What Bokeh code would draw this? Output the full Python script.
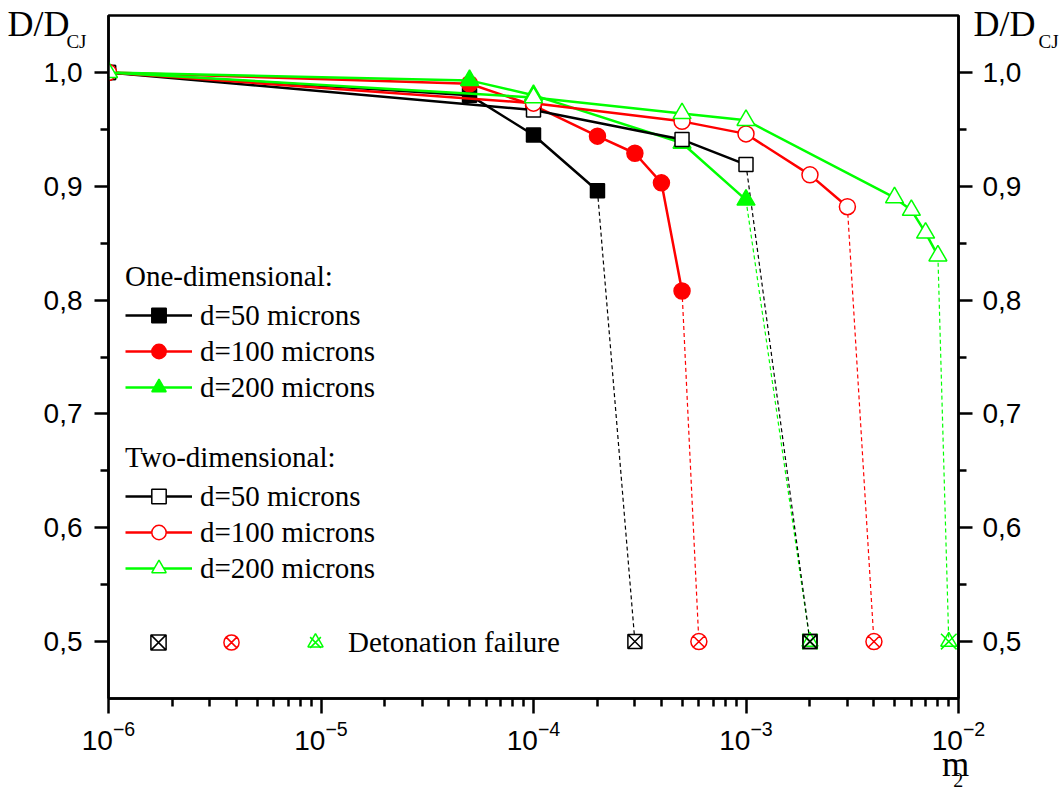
from bokeh.plotting import figure
from bokeh.models import (LinearAxis, FixedTicker, CustomJSTickFormatter,
                          Legend, LegendItem, Range1d)
from bokeh.embed import file_html
from bokeh.resources import INLINE

# ---------------- data ----------------
# One-dimensional
x_1d_50 = [1e-6, 5e-5, 1e-4, 2e-4]
y_1d_50 = [1.0, 0.980, 0.945, 0.896]
x_1d_100 = [1e-6, 5e-5, 1e-4, 2e-4, 3e-4, 4e-4, 5e-4]
y_1d_100 = [1.0, 0.990, 0.971, 0.944, 0.929, 0.903, 0.808]
x_1d_200 = [1e-6, 5e-5, 1e-4, 5e-4, 1e-3]
y_1d_200 = [1.0, 0.993, 0.980, 0.938, 0.888]
# Two-dimensional
x_2d_50 = [1e-6, 1e-4, 5e-4, 1e-3]
y_2d_50 = [1.0, 0.967, 0.941, 0.919]
x_2d_100 = [1e-6, 1e-4, 5e-4, 1e-3, 2e-3, 3e-3]
y_2d_100 = [1.0, 0.973, 0.957, 0.946, 0.910, 0.882]
x_2d_200 = [1e-6, 1e-4, 5e-4, 1e-3, 5e-3, 6e-3, 7e-3, 8e-3]
y_2d_200 = [1.0, 0.978, 0.964, 0.958, 0.890, 0.879, 0.859, 0.839]
# Detonation failure points (black, red, green)
fail_x_1d = [3e-4, 6e-4, 2e-3]
fail_x_2d = [2e-3, 4e-3, 9e-3]
fail_y = 0.5

x_ticks = [1e-6, 1e-5, 1e-4, 1e-3, 1e-2]
x_minor = [k * 10.0 ** e for e in range(-6, -2) for k in range(2, 10)]
y_ticks = [0.5, 0.6, 0.7, 0.8, 0.9, 1.0]
y_minor = [0.55, 0.65, 0.75, 0.85, 0.95]

BLACK = "#000000"
RED = "#ff0000"
GREEN = "#00ff00"
SERIF = "Liberation Serif"
SANS = "Liberation Sans"

FRAME_W, FRAME_H = 854, 683

p = figure(width=1061, height=794, x_axis_type="log", title=None,
           x_range=Range1d(1e-6, 1e-2), y_range=Range1d(0.45, 1.05),
           output_backend="svg", toolbar_location=None,
           min_border_left=108, min_border_right=99,
           min_border_top=15, min_border_bottom=96)
p.xgrid.visible = False
p.ygrid.visible = False
p.outline_line_color = "black"
p.outline_line_width = 2.5
p.outline_line_alpha = 1.0
# pixel ranges of the frame, used only to place the axis-title texts
p.extra_x_ranges = {"px": Range1d(0, FRAME_W)}
p.extra_y_ranges = {"py": Range1d(0, FRAME_H)}

comma_fmt = CustomJSTickFormatter(code="return tick.toFixed(1).replace('.', ',');")

xa = p.xaxis[0]
xa.ticker = FixedTicker(ticks=x_ticks, minor_ticks=x_minor)
xa.major_tick_out = 15
xa.major_tick_in = 0
xa.minor_tick_out = 8
xa.minor_tick_in = 0
xa.major_label_standoff = 7

ya = p.yaxis[0]
ra = LinearAxis()
p.add_layout(ra, "right")
for ax in (ya, ra):
    ax.ticker = FixedTicker(ticks=y_ticks, minor_ticks=y_minor)
    ax.formatter = comma_fmt
    ax.major_tick_out = 14
    ax.major_tick_in = 0
    ax.minor_tick_out = 8
    ax.minor_tick_in = 0
ya.major_label_standoff = 12
ra.major_label_standoff = 10

for ax in (xa, ya, ra):
    ax.axis_line_width = 2.5
    ax.axis_line_color = "black"
    ax.major_tick_line_width = 2.5
    ax.minor_tick_line_width = 2.5
    ax.major_tick_line_color = "black"
    ax.minor_tick_line_color = "black"
    ax.major_label_text_font = SANS
    ax.major_label_text_font_size = "28px"
    ax.major_label_text_color = "black"


def text_axis(side, text, pos, font_size, standoff):
    """An axis without line or tick marks whose single label is a title text."""
    if side in ("left", "right"):
        kw = {"y_range_name": "py"}
    else:
        kw = {"x_range_name": "px"}
    ax = LinearAxis(**kw,
                    ticker=FixedTicker(ticks=[pos], minor_ticks=[]),
                    formatter=CustomJSTickFormatter(code="return %r;" % text),
                    axis_line_color=None, major_tick_line_color=None,
                    minor_tick_line_color=None,
                    major_tick_out=0, major_tick_in=0,
                    minor_tick_out=0, minor_tick_in=0,
                    major_label_standoff=standoff,
                    major_label_text_font=SERIF,
                    major_label_text_font_size=font_size,
                    major_label_text_color="black")
    p.add_layout(ax, side)


# ---------------- dashed lines to failure ----------------
dash_specs = [
    (x_1d_50, y_1d_50, fail_x_1d[0], BLACK),
    (x_1d_100, y_1d_100, fail_x_1d[1], RED),
    (x_1d_200, y_1d_200, fail_x_1d[2], GREEN),
    (x_2d_50, y_2d_50, fail_x_2d[0], BLACK),
    (x_2d_100, y_2d_100, fail_x_2d[1], RED),
    (x_2d_200, y_2d_200, fail_x_2d[2], GREEN),
]
for xs, ys, fx, col in dash_specs:
    p.line([xs[-1], fx], [ys[-1], fail_y], line_color=col, line_width=1.2,
           line_dash="4 3")


def series(xs, ys, color, marker, fill, size, lw=1.5):
    ln = p.line(xs, ys, line_color=color, line_width=2.5)
    sc = p.scatter(xs, ys, marker=marker, size=size, line_color=color,
                   fill_color=fill, line_width=lw)
    return ln, sc


l1, s1 = series(x_1d_50, y_1d_50, BLACK, "square", BLACK, 14)
l2, s2 = series(x_1d_100, y_1d_100, RED, "circle", RED, 16)
l3, s3 = series(x_1d_200, y_1d_200, GREEN, "triangle", GREEN, 18)
l4, s4 = series(x_2d_50, y_2d_50, BLACK, "square", "white", 14)
l5, s5 = series(x_2d_100, y_2d_100, RED, "circle", "white", 16)
l6, s6 = series(x_2d_200, y_2d_200, GREEN, "triangle", "white", 18)

# failure markers
fk = p.scatter(fail_x_1d[:1] + fail_x_2d[:1], [fail_y] * 2, marker="square_x",
               size=14, line_color=BLACK, fill_color="white", line_width=1.5)
fr = p.scatter(fail_x_1d[1:2] + fail_x_2d[1:2], [fail_y] * 2, marker="circle_x",
               size=16, line_color=RED, fill_color="white", line_width=1.5)
fg1 = p.scatter(fail_x_1d[2:] + fail_x_2d[2:], [fail_y] * 2, marker="triangle",
                size=16, line_color=GREEN, fill_color=None, line_width=1.5)
fg2 = p.scatter(fail_x_1d[2:] + fail_x_2d[2:], [fail_y] * 2, marker="x",
                size=22, line_color=GREEN, line_width=1.5)
# black 2D failure marker sits on top of the green one
p.scatter(fail_x_2d[:1], [fail_y], marker="square_x", size=14,
          line_color=BLACK, fill_color=None, line_width=1.5)


def make_legend(items, loc, title=None, gw=67, gh=36, standoff=8):
    leg = Legend(items=items, location=loc, orientation="vertical",
                 border_line_color=None, background_fill_alpha=0,
                 padding=0, margin=0, spacing=0,
                 glyph_width=gw, glyph_height=gh, label_height=gh,
                 label_standoff=standoff,
                 label_text_font=SERIF, label_text_font_size="29px",
                 label_text_color="black")
    if title is not None:
        leg.title = title
        leg.title_text_font = SERIF
        leg.title_text_font_size = "29px"
        leg.title_text_font_style = "normal"
        leg.title_text_color = "black"
        leg.title_standoff = 4
    p.add_layout(leg)
    return leg


make_legend([LegendItem(label="d=50 microns", renderers=[l1, s1]),
             LegendItem(label="d=100 microns", renderers=[l2, s2]),
             LegendItem(label="d=200 microns", renderers=[l3, s3])],
            (17, 293), title="One-dimensional:")
make_legend([LegendItem(label="d=50 microns", renderers=[l4, s4]),
             LegendItem(label="d=100 microns", renderers=[l5, s5]),
             LegendItem(label="d=200 microns", renderers=[l6, s6])],
            (17, 112), title="Two-dimensional:")
make_legend([LegendItem(label=" ", renderers=[fk])], (31, 37), gw=38, gh=38)
make_legend([LegendItem(label=" ", renderers=[fr])], (104, 37), gw=38, gh=38)
make_legend([LegendItem(label="Detonation failure", renderers=[fg1, fg2])],
            (188, 37), gw=38, gh=38, standoff=14)

# axis titles  D/D_CJ (left and right, at the top) and m_2 (below, right)
text_axis("left", "D/D", 675, "36px", -29)
text_axis("left", "CJ", 657, "19px", -82)
text_axis("right", "D/D", 675, "36px", -51)
text_axis("right", "CJ", 657, "19px", 0)
text_axis("below", "m", 835, "35px", -8)
text_axis("below", "2", 853, "20px", -14)

open("out.html", "w").write(file_html(p, INLINE))
